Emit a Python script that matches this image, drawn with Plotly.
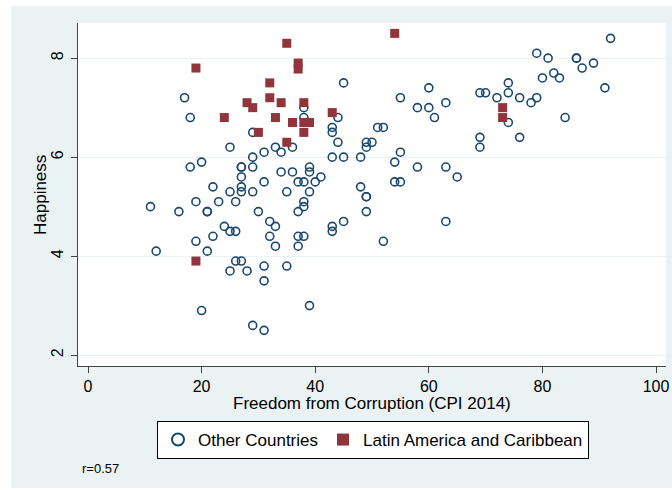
import plotly.graph_objects as go

# Countries outside Latin America: CPI 2014 score and happiness score
other_cpi = [
    11, 12, 16, 17, 18, 18, 19, 19, 20, 20,
    21, 21, 21, 22, 22, 23, 24, 25, 25, 25, 25, 26, 26, 26,
    27, 27, 27, 27, 27, 27, 28, 29, 29, 29, 29, 29, 30,
    31, 31, 31, 31, 31, 32, 32, 33, 33, 33, 34, 34, 35, 35,
    36, 36, 37, 37, 37, 37, 38, 38, 38, 38, 38, 38, 39, 39, 39, 39, 40,
    41, 43, 43, 43, 43, 43, 44, 44, 45, 45, 45, 48, 48, 49, 49, 49, 49, 49, 50,
    51, 52, 52, 54, 54, 55, 55, 55, 58, 58, 60, 60, 61, 63, 63, 63, 65,
    69, 69, 69, 70, 72, 74, 74, 74, 76, 76, 78, 79, 79, 80, 81, 82, 83, 84,
    86, 86, 87, 89, 91, 92,
]
other_happy = [
    5.0, 4.1, 4.9, 7.2, 6.8, 5.8, 5.1, 4.3, 5.9, 2.9,
    4.9, 4.9, 4.1, 5.4, 4.4, 5.1, 4.6, 6.2, 5.3, 4.5, 3.7, 5.1, 4.5, 3.9,
    5.8, 5.8, 5.6, 5.4, 5.3, 3.9, 3.7, 6.5, 6.0, 5.8, 5.3, 2.6, 4.9,
    6.1, 5.5, 3.8, 3.5, 2.5, 4.7, 4.4, 6.2, 4.6, 4.2, 6.1, 5.7, 5.3, 3.8,
    6.2, 5.7, 5.5, 4.9, 4.4, 4.2, 7.0, 6.8, 5.5, 5.1, 5.0, 4.4, 5.8, 5.7, 5.3, 3.0, 5.5,
    5.6, 6.6, 6.5, 6.0, 4.6, 4.5, 6.8, 6.3, 7.5, 6.0, 4.7, 6.0, 5.4, 6.3, 6.2, 5.2, 5.2, 4.9, 6.3,
    6.6, 6.6, 4.3, 5.9, 5.5, 7.2, 6.1, 5.5, 7.0, 5.8, 7.4, 7.0, 6.8, 7.1, 5.8, 4.7, 5.6,
    7.3, 6.4, 6.2, 7.3, 7.2, 7.5, 7.3, 6.7, 7.2, 6.4, 7.1, 8.1, 7.2, 7.6, 8.0, 7.7, 7.6, 6.8,
    8.0, 8.0, 7.8, 7.9, 7.4, 8.4,
]

# Latin America and Caribbean
latam_cpi = [
    19, 19, 24, 28, 29, 30, 32, 32, 33, 34, 35, 35,
    36, 37, 37, 38, 38, 38, 39, 43, 54, 73, 73,
]
latam_happy = [
    7.8, 3.9, 6.8, 7.1, 7.0, 6.5, 7.5, 7.2, 6.8, 7.1, 8.3, 6.3,
    6.7, 7.9, 7.78, 7.1, 6.7, 6.5, 6.7, 6.9, 8.5, 7.0, 6.8,
]

x_ticks = [0, 20, 40, 60, 80, 100]
y_ticks = [2, 4, 6, 8]

NAVY = "#1a476f"
MAROON = "#90353b"
PANEL = "#eaf2f3"
AXIS = "#444444"
FONT = "Liberation Sans, Arial, sans-serif"

W, H = 672, 490
PLOT_LEFT, PLOT_RIGHT, PLOT_TOP, PLOT_BOTTOM = 78, 666, 23, 366
MARGIN = dict(l=PLOT_LEFT, r=W - PLOT_RIGHT, t=PLOT_TOP, b=H - PLOT_BOTTOM)
plot_w = PLOT_RIGHT - PLOT_LEFT
plot_h = PLOT_BOTTOM - PLOT_TOP


def px_x(px):
    # figure pixel -> paper x
    return (px - PLOT_LEFT) / plot_w


def px_y(py):
    # figure pixel -> paper y
    return (PLOT_BOTTOM - py) / plot_h


fig = go.Figure()
fig.add_trace(
    go.Scatter(
        x=other_cpi,
        y=other_happy,
        mode="markers",
        name="Other Countries",
        marker=dict(symbol="circle-open", size=8, color=NAVY, line=dict(width=1.6, color=NAVY)),
    )
)
fig.add_trace(
    go.Scatter(
        x=latam_cpi,
        y=latam_happy,
        mode="markers",
        name="Latin America and Caribbean",
        marker=dict(symbol="square", size=9, color=MAROON, line=dict(width=0)),
    )
)

# white strips around the grey panel, as in the original export
strips = [
    (px_x(0), px_x(11), px_y(H), px_y(0)),
    (px_x(0), px_x(W), px_y(6), px_y(0)),
    (px_x(0), px_x(W), px_y(H), px_y(488)),
]
for x0, x1, y0, y1 in strips:
    fig.add_shape(
        type="rect", xref="paper", yref="paper", x0=x0, x1=x1, y0=y0, y1=y1,
        fillcolor="white", line=dict(width=0), layer="above",
    )

# axis titles and the correlation note
fig.add_annotation(
    text="Freedom from Corruption (CPI 2014)", xref="paper", yref="paper",
    x=px_x(372), y=px_y(403), xanchor="center", yanchor="middle", showarrow=False,
    font=dict(size=17, color="black", family=FONT),
)
fig.add_annotation(
    text="Happiness", xref="paper", yref="paper", textangle=-90,
    x=px_x(40), y=px_y(195), xanchor="center", yanchor="middle", showarrow=False,
    font=dict(size=17, color="black", family=FONT),
)
fig.add_annotation(
    text="r=0.57", xref="paper", yref="paper", x=px_x(80), y=px_y(468),
    xanchor="left", yanchor="middle", showarrow=False,
    font=dict(size=13, color="black", family=FONT),
)

fig.update_layout(
    width=W,
    height=H,
    autosize=False,
    margin=MARGIN,
    paper_bgcolor=PANEL,
    plot_bgcolor="white",
    font=dict(family=FONT, color="black"),
    showlegend=True,
    legend=dict(
        orientation="h",
        x=px_x(157),
        xanchor="left",
        y=px_y(421),
        yanchor="top",
        bgcolor="white",
        bordercolor="black",
        borderwidth=1,
        font=dict(size=17, family=FONT),
        itemsizing="constant",
    ),
)
fig.update_xaxes(
    range=[-1.76, 101.76],
    tickvals=x_ticks,
    ticks="outside",
    ticklen=6,
    tickcolor=AXIS,
    showline=True,
    linecolor=AXIS,
    linewidth=1,
    showgrid=False,
    zeroline=False,
    tickfont=dict(size=16),
    automargin=False,
)
fig.update_yaxes(
    range=[1.78, 8.71],
    tickvals=y_ticks,
    ticks="outside",
    ticklen=6,
    tickcolor=AXIS,
    tickangle=-90,
    ticklabelstandoff=2,
    showline=True,
    linecolor=AXIS,
    linewidth=1,
    showgrid=True,
    gridcolor=PANEL,
    gridwidth=1,
    zeroline=False,
    tickfont=dict(size=16),
    automargin=False,
)

# drop the default page margin so the figure sits flush in the window
fig.write_html(
    "out.html",
    config={"displayModeBar": False},
    post_script="document.body.style.margin='0';document.documentElement.style.overflow='hidden';",
)
